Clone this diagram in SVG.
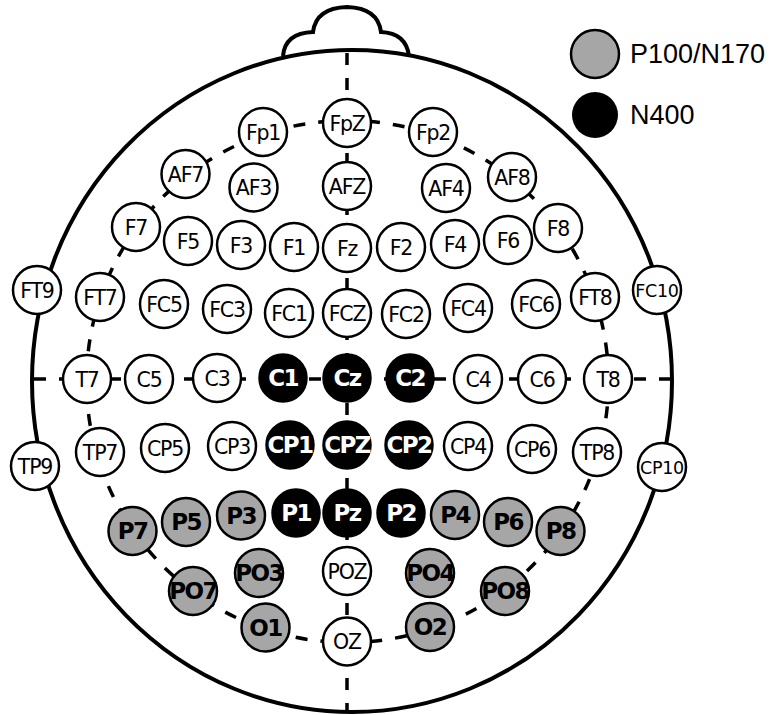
<svg xmlns="http://www.w3.org/2000/svg" width="773" height="715" viewBox="0 0 773 715">
<style>
.head{fill:none;stroke:#000;stroke-width:4}
.dash{fill:none;stroke:#000;stroke-width:3.5;stroke-dasharray:12 13}
.n circle{stroke:#000;stroke-width:2.5}
.w circle{fill:#fff}
.g circle{fill:#a6a6a6}
.b circle{fill:#000}
.n text{font-family:"DejaVu Sans",Verdana,sans-serif;font-size:20.5px;text-anchor:middle;fill:#000;letter-spacing:-1.2px}
.g text,.b text{font-weight:bold;font-size:23px;letter-spacing:-1.6px}
.b text{fill:#fff}
.s text{font-size:17.5px;letter-spacing:-0.3px}
.leg{font-family:"Liberation Sans",Arial,sans-serif;font-size:27px;fill:#000}
</style>
<rect width="773" height="715" fill="#fff"/>
<g id="head">
<ellipse class="head" cx="352" cy="381" rx="320" ry="331"/>
<path class="head" d="M283,56 Q285,33 313,32 Q316,8 347,7 Q378,8 381,32 Q406,33 409,56"/>
</g>
<g id="connectors">
<line class="dash" x1="347" y1="53" x2="347" y2="710"/>
<line class="dash" x1="34" y1="379" x2="671" y2="379"/>
<circle class="dash" cx="347.5" cy="381.5" r="261"/>
</g>
<g id="legend">
<circle cx="595" cy="54" r="24" fill="#a6a6a6" stroke="#000" stroke-width="2.5"/>
<text class="leg" x="630" y="63">P100/N170</text>
<circle cx="595" cy="115" r="23" fill="#000"/>
<text class="leg" x="630" y="124">N400</text>
</g>
<g id="nodes">
<g id="Fp1" class="n w"><circle cx="263" cy="132" r="24"/><text x="263" y="139.5">Fp1</text></g>
<g id="FpZ" class="n w"><circle cx="347" cy="123" r="24"/><text x="347" y="130.5">FpZ</text></g>
<g id="Fp2" class="n w"><circle cx="433" cy="132" r="24"/><text x="433" y="139.5">Fp2</text></g>
<g id="AF7" class="n w"><circle cx="185.5" cy="174" r="24"/><text x="185.5" y="181.5">AF7</text></g>
<g id="AF3" class="n w"><circle cx="253.5" cy="187.5" r="24"/><text x="253.5" y="195">AF3</text></g>
<g id="AFZ" class="n w"><circle cx="347" cy="186" r="24"/><text x="347" y="193.5">AFZ</text></g>
<g id="AF4" class="n w"><circle cx="446" cy="188" r="24"/><text x="446" y="195.5">AF4</text></g>
<g id="AF8" class="n w"><circle cx="512" cy="177" r="24"/><text x="512" y="184.5">AF8</text></g>
<g id="F7" class="n w"><circle cx="136" cy="227" r="24"/><text x="136" y="234.5">F7</text></g>
<g id="F5" class="n w"><circle cx="188" cy="241" r="24"/><text x="188" y="248.5">F5</text></g>
<g id="F3" class="n w"><circle cx="241" cy="245" r="24"/><text x="241" y="252.5">F3</text></g>
<g id="F1" class="n w"><circle cx="294" cy="247" r="24"/><text x="294" y="254.5">F1</text></g>
<g id="Fz" class="n w"><circle cx="347" cy="248" r="24"/><text x="347" y="255.5">Fz</text></g>
<g id="F2" class="n w"><circle cx="401" cy="247" r="24"/><text x="401" y="254.5">F2</text></g>
<g id="F4" class="n w"><circle cx="455" cy="244" r="24"/><text x="455" y="251.5">F4</text></g>
<g id="F6" class="n w"><circle cx="508" cy="240" r="24"/><text x="508" y="247.5">F6</text></g>
<g id="F8" class="n w"><circle cx="558" cy="228" r="24"/><text x="558" y="235.5">F8</text></g>
<g id="FT9" class="n w"><circle cx="37" cy="290" r="24"/><text x="37" y="297.5">FT9</text></g>
<g id="FT7" class="n w"><circle cx="100" cy="297" r="24"/><text x="100" y="304.5">FT7</text></g>
<g id="FC5" class="n w"><circle cx="164" cy="304" r="24"/><text x="164" y="311.5">FC5</text></g>
<g id="FC3" class="n w"><circle cx="227" cy="309" r="24"/><text x="227" y="316.5">FC3</text></g>
<g id="FC1" class="n w"><circle cx="289" cy="313" r="24"/><text x="289" y="320.5">FC1</text></g>
<g id="FCZ" class="n w"><circle cx="347" cy="313" r="24"/><text x="347" y="320.5">FCZ</text></g>
<g id="FC2" class="n w"><circle cx="406" cy="314" r="24"/><text x="406" y="321.5">FC2</text></g>
<g id="FC4" class="n w"><circle cx="468" cy="308" r="24"/><text x="468" y="315.5">FC4</text></g>
<g id="FC6" class="n w"><circle cx="536" cy="304" r="24"/><text x="536" y="311.5">FC6</text></g>
<g id="FT8" class="n w"><circle cx="595" cy="297" r="24"/><text x="595" y="304.5">FT8</text></g>
<g id="FC10" class="n w s"><circle cx="657" cy="290" r="24"/><text x="657" y="296.5">FC10</text></g>
<g id="T7" class="n w"><circle cx="87" cy="379" r="24"/><text x="87" y="386.5">T7</text></g>
<g id="C5" class="n w"><circle cx="149" cy="379" r="24"/><text x="149" y="386.5">C5</text></g>
<g id="C3" class="n w"><circle cx="217" cy="378" r="24"/><text x="217" y="385.5">C3</text></g>
<g id="C1" class="n b"><circle cx="283" cy="378" r="23.5"/><text x="283" y="386.4">C1</text></g>
<g id="Cz" class="n b"><circle cx="347" cy="378" r="23.5"/><text x="347" y="386.4">Cz</text></g>
<g id="C2" class="n b"><circle cx="410" cy="378" r="23.5"/><text x="410" y="386.4">C2</text></g>
<g id="C4" class="n w"><circle cx="478" cy="379" r="24"/><text x="478" y="386.5">C4</text></g>
<g id="C6" class="n w"><circle cx="542" cy="379" r="24"/><text x="542" y="386.5">C6</text></g>
<g id="T8" class="n w"><circle cx="608" cy="379" r="24"/><text x="608" y="386.5">T8</text></g>
<g id="TP9" class="n w"><circle cx="35" cy="466" r="24"/><text x="35" y="473.5">TP9</text></g>
<g id="TP7" class="n w"><circle cx="100" cy="452" r="24"/><text x="100" y="459.5">TP7</text></g>
<g id="CP5" class="n w"><circle cx="165" cy="448" r="24"/><text x="165" y="455.5">CP5</text></g>
<g id="CP3" class="n w"><circle cx="232" cy="446" r="24"/><text x="232" y="453.5">CP3</text></g>
<g id="CP1" class="n b"><circle cx="290" cy="445" r="23.5"/><text x="290" y="453.4">CP1</text></g>
<g id="CPZ" class="n b"><circle cx="347" cy="445" r="23.5"/><text x="347" y="453.4">CPZ</text></g>
<g id="CP2" class="n b"><circle cx="409" cy="445" r="23.5"/><text x="409" y="453.4">CP2</text></g>
<g id="CP4" class="n w"><circle cx="468" cy="446" r="24"/><text x="468" y="453.5">CP4</text></g>
<g id="CP6" class="n w"><circle cx="532" cy="449" r="24"/><text x="532" y="456.5">CP6</text></g>
<g id="TP8" class="n w"><circle cx="597" cy="452" r="24"/><text x="597" y="459.5">TP8</text></g>
<g id="CP10" class="n w s"><circle cx="662" cy="467" r="24"/><text x="662" y="473.5">CP10</text></g>
<g id="P7" class="n g"><circle cx="132.5" cy="531" r="24"/><text x="132.5" y="539.4">P7</text></g>
<g id="P5" class="n g"><circle cx="186" cy="522" r="24"/><text x="186" y="530.4">P5</text></g>
<g id="P3" class="n g"><circle cx="241" cy="515.5" r="24"/><text x="241" y="523.9">P3</text></g>
<g id="P1" class="n b"><circle cx="296" cy="513" r="23.5"/><text x="296" y="521.4">P1</text></g>
<g id="Pz" class="n b"><circle cx="347" cy="513" r="23.5"/><text x="347" y="521.4">Pz</text></g>
<g id="P2" class="n b"><circle cx="401" cy="513" r="23.5"/><text x="401" y="521.4">P2</text></g>
<g id="P4" class="n g"><circle cx="455" cy="515" r="24"/><text x="455" y="523.4">P4</text></g>
<g id="P6" class="n g"><circle cx="508" cy="522" r="24"/><text x="508" y="530.4">P6</text></g>
<g id="P8" class="n g"><circle cx="560.5" cy="531" r="24"/><text x="560.5" y="539.4">P8</text></g>
<g id="PO7" class="n g"><circle cx="193" cy="591" r="24"/><text x="193" y="599.4">PO7</text></g>
<g id="PO3" class="n g"><circle cx="259" cy="573" r="24"/><text x="259" y="581.4">PO3</text></g>
<g id="POZ" class="n w"><circle cx="347" cy="571" r="24"/><text x="347" y="578.5">POZ</text></g>
<g id="PO4" class="n g"><circle cx="430" cy="573" r="24"/><text x="430" y="581.4">PO4</text></g>
<g id="PO8" class="n g"><circle cx="505" cy="591" r="24"/><text x="505" y="599.4">PO8</text></g>
<g id="O1" class="n g"><circle cx="265.5" cy="627.5" r="24"/><text x="265.5" y="635.9">O1</text></g>
<g id="OZ" class="n w"><circle cx="347" cy="641.5" r="24"/><text x="347" y="649">OZ</text></g>
<g id="O2" class="n g"><circle cx="430" cy="627" r="24"/><text x="430" y="634.9">O2</text></g>
</g>
</svg>
